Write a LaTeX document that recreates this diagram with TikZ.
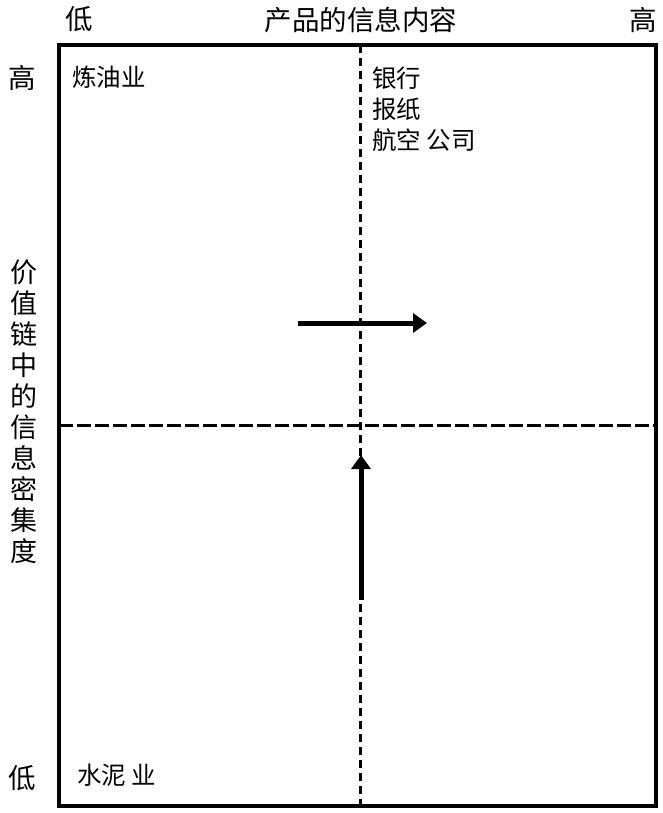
\documentclass[tikz,border=0pt]{standalone}
\usepackage{fontspec}
\setmainfont{Noto Sans CJK SC}
\usetikzlibrary{arrows.meta}
\begin{document}
\begin{tikzpicture}[x=1pt,y=-1pt,
  lab/.style={inner sep=0pt, font=\fontsize{27.5}{30}\selectfont},
  inlab/.style={inner sep=0pt, anchor=west, font=\fontsize{24.5}{28}\selectfont},
  frame/.style={line width=4pt},
  axisdash/.style={line width=3pt, dash pattern=on 8pt off 5pt},
  bigarrow/.style={line width=5pt, -{Triangle[length=14pt 0, width=19pt 0]}}]
\useasboundingbox[fill=white] (0,0) rectangle (663,813);
% frame
\coordinate (tl) at (59,45);
\coordinate (br) at (656,806);
\draw[frame] (tl) rectangle (br);
% dashed axes
\coordinate (vt) at (360,45);
\coordinate (vb) at (360,806);
\coordinate (hl) at (59,425);
\coordinate (hr) at (656,425);
\draw[axisdash] (vt) -- (vb);
\draw[line width=3pt, dash pattern=on 14pt off 4pt] (hl) -- (hr);
% arrows
\coordinate (ra) at (298,323);
\coordinate (rb) at (427,323);
\draw[bigarrow] (ra) -- (rb);
\coordinate (ua) at (361,600);
\coordinate (ub) at (361,455);
\draw[bigarrow] (ua) -- (ub);
% axis labels
\node[lab] (xlow) at (79,19) {低};
\node[lab] (xtitle) at (361,20) {产品的信息内容};
\node[lab] (xhigh) at (643,20) {高};
\node[lab] (yhigh) at (22,78) {高};
\node[lab] (ylow) at (22,778) {低};
\node[inner sep=0pt, align=center, font=\fontsize{27}{31}\selectfont] (ytitle) at (24,412)
  {价\\值\\链\\中\\的\\信\\息\\密\\集\\度};
% quadrant labels
\node[inlab] (q1) at (72,77) {炼油业};
\node[inlab] (q2a) at (372,78) {银行};
\node[inlab] (q2b) at (372,109) {报纸};
\node[inlab] (q2c) at (372,140) {航空 公司};
\node[inlab] (q3) at (77,775) {水泥 业};
\end{tikzpicture}
\end{document}
